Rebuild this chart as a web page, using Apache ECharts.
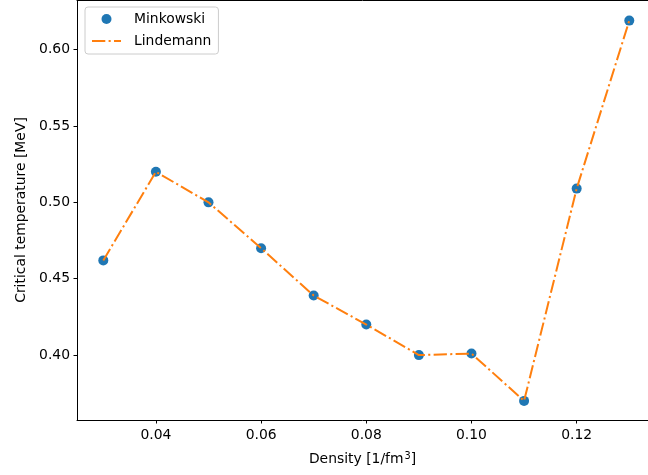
<!DOCTYPE html>
<html>
<head>
<meta charset="utf-8">
<script src="https://cdn.jsdelivr.net/npm/echarts@6/dist/echarts.min.js"></script>
<style>
  html, body { margin: 0; padding: 0; background: #fff; }
  #main { width: 648px; height: 475px; }
</style>
</head>
<body>
<div id="main"></div>
<script>
// density values [1/fm^3]
const densities = [0.03, 0.04, 0.05, 0.06, 0.07, 0.08, 0.09, 0.10, 0.11, 0.12, 0.13]
// critical temperature [MeV]
const minkowski = [0.462, 0.520, 0.500, 0.470, 0.439, 0.420, 0.400, 0.401, 0.370, 0.509, 0.619]
const lindemann = [0.462, 0.520, 0.500, 0.470, 0.439, 0.420, 0.400, 0.401, 0.370, 0.509, 0.619]

const xTicks = [0.04, 0.06, 0.08, 0.10, 0.12]
const yTicks = [0.40, 0.45, 0.50, 0.55, 0.60]

const font = 'DejaVu Sans'
const fs = 13.9
const dashDot = [13.3, 3.3, 2.1, 3.3]

const chart = echarts.init(document.getElementById('main'))

// the original figure is cropped on the right, so the axis stops at the edge
chart.setOption({
  animation: false,
  textStyle: { fontFamily: font },
  grid: {
    left: 77,
    top: -2,
    width: 571,
    height: 422
  },
  legend: {
    orient: 'vertical',
    left: 85,
    top: 7,
    padding: [5, 7, 6, 6],
    itemWidth: 29,
    itemHeight: 10,
    itemGap: 8,
    borderColor: '#cccccc',
    borderWidth: 1,
    borderRadius: 3,
    backgroundColor: 'rgba(255,255,255,0.8)',
    textStyle: { fontFamily: font, fontSize: fs, color: '#000', lineHeight: 14, padding: [0, 0, 0, 8] },
    data: [
      { name: 'Minkowski', icon: 'circle' },
      {
        name: 'Lindemann',
        itemStyle: { opacity: 0 },
        lineStyle: { color: '#ff7f0e', width: 2, type: dashDot, opacity: 1 }
      }
    ]
  },
  xAxis: [{
    type: 'value',
    min: 0.025,
    max: 0.13356,
    name: '{a|Density [1/fm}{s|3}{a|]}',
    nameLocation: 'middle',
    nameGap: 31,
    nameTextStyle: {
      rich: {
        a: { fontFamily: font, fontSize: fs, color: '#000' },
        s: { fontFamily: font, fontSize: 9.7, color: '#000', padding: [0, 0, 7, 1] }
      }
    },
    splitLine: { show: false },
    axisLine: { show: true, onZero: false, lineStyle: { color: '#000', width: 1 } },
    axisTick: { show: true, length: 3.5, customValues: xTicks, lineStyle: { color: '#000' } },
    axisLabel: {
      customValues: xTicks,
      margin: 8,
      color: '#000',
      fontFamily: font,
      fontSize: fs,
      formatter: v => v.toFixed(2)
    }
  }, {
    // top spine only
    type: 'value',
    position: 'top',
    min: 0.025,
    max: 0.13356,
    splitLine: { show: false },
    axisLine: { show: true, onZero: false, lineStyle: { color: '#000', width: 1 } },
    axisTick: { show: false },
    axisLabel: { show: false }
  }],
  yAxis: {
    type: 'value',
    min: 0.3575,
    max: 0.6325,
    name: 'Critical temperature [MeV]',
    nameLocation: 'middle',
    nameGap: 49,
    nameTextStyle: { fontFamily: font, fontSize: fs, color: '#000' },
    splitLine: { show: false },
    axisLine: { show: true, onZero: false, lineStyle: { color: '#000', width: 1 } },
    axisTick: { show: true, length: 3.5, customValues: yTicks, lineStyle: { color: '#000' } },
    axisLabel: {
      customValues: yTicks,
      margin: 7,
      color: '#000',
      fontFamily: font,
      fontSize: fs,
      formatter: v => v.toFixed(2)
    }
  },
  series: [
    {
      name: 'Minkowski',
      type: 'scatter',
      symbol: 'circle',
      symbolSize: 10,
      z: 2,
      itemStyle: { color: '#1f77b4', opacity: 1 },
      data: densities.map((d, i) => [d, minkowski[i]])
    },
    {
      name: 'Lindemann',
      type: 'line',
      showSymbol: false,
      z: 3,
      itemStyle: { color: '#ff7f0e' },
      lineStyle: { color: '#ff7f0e', width: 2, type: dashDot },
      data: densities.map((d, i) => [d, lindemann[i]])
    }
  ]
})
</script>
</body>
</html>
